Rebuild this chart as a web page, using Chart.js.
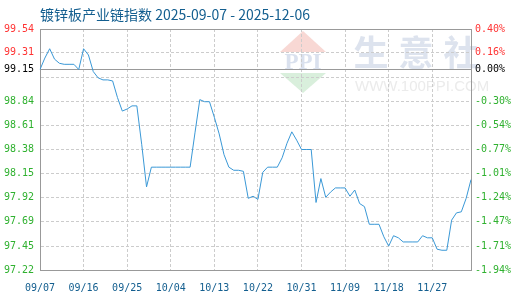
<!DOCTYPE html>
<html>
<head>
<meta charset="utf-8">
<script src="https://cdn.jsdelivr.net/npm/chart.js@4/dist/chart.umd.min.js"></script>
<style>
  html, body { margin: 0; padding: 0; background: #fff; }
  #wrap { width: 520px; height: 300px; }
</style>
</head>
<body>
<div id="wrap"><canvas id="myChart" width="520" height="300"></canvas></div>
<script>
var titleText = "镀锌板产业链指数 2025-09-07 - 2025-12-06";
var startDate = [2025, 9, 7];
var xTickEvery = 9;

// index values, one per day
var index = [
  99.15, 99.26, 99.35, 99.25, 99.21, 99.20, 99.20, 99.20, 99.15, 99.35,
  99.29, 99.13, 99.07, 99.05, 99.05, 99.04, 98.88, 98.75, 98.77, 98.80,
  98.80, 98.43, 98.02, 98.21, 98.21, 98.21, 98.21, 98.21, 98.21, 98.21,
  98.21, 98.21, 98.54, 98.86, 98.84, 98.84, 98.69, 98.53, 98.33, 98.21,
  98.18, 98.18, 98.17, 97.91, 97.93, 97.90, 98.16, 98.21, 98.21, 98.21,
  98.30, 98.44, 98.55, 98.47, 98.38, 98.38, 98.38, 97.87, 98.10, 97.92,
  97.97, 98.01, 98.01, 98.01, 97.93, 97.99, 97.86, 97.83, 97.66, 97.66,
  97.66, 97.54, 97.45, 97.55, 97.53, 97.49, 97.49, 97.49, 97.49, 97.55,
  97.53, 97.53, 97.42, 97.41, 97.41, 97.70, 97.77, 97.78, 97.91, 98.09
];

var base = 99.15;
var baseLabel = "99.15";
var baseRight = "0.00%";
var gridValues = [97.22, 97.45, 97.69, 97.92, 98.15, 98.38, 98.61, 98.84, 99.07, 99.31, 99.54];
var leftLabels = ["97.22", "97.45", "97.69", "97.92", "98.15", "98.38", "98.61", "98.84", "", "99.31", "99.54"];
var rightLabels = ["-1.94%", "-1.71%", "-1.47%", "-1.24%", "-1.01%", "-0.77%", "-0.54%", "-0.30%", "", "0.16%", "0.40%"];

// day labels MM/DD
var days = [];
for (var i = 0; i < index.length; i++) {
  var d = new Date(Date.UTC(startDate[0], startDate[1] - 1, startDate[2] + i));
  var mm = ("0" + (d.getUTCMonth() + 1)).slice(-2);
  var dd = ("0" + d.getUTCDate()).slice(-2);
  days.push(mm + "/" + dd);
}

var red = "#ff3333", green = "#2fb12f", blue = "#135e8f";
var monoFont = { family: "'DejaVu Sans Mono', monospace", size: 10 };

function tickColor(ctx) {
  var v = ctx.tick ? ctx.tick.value : 0;
  if (v === base) return "#000";
  return v > base ? red : green;
}
function setTicks(scale) {
  scale.ticks = gridValues.concat([base]).map(function (v) { return { value: v }; });
}

var watermark = {
  id: "watermark",
  beforeDraw: function (chart) {
    var c = chart.ctx;
    c.save();
    c.fillStyle = "#fff";
    c.fillRect(0, 0, chart.width, chart.height);
    // ppi logo
    c.fillStyle = "#f8d8d4";
    c.beginPath(); c.moveTo(303, 31); c.lineTo(326, 52); c.lineTo(280, 52); c.closePath(); c.fill();
    c.fillStyle = "#d9efdc";
    c.beginPath(); c.moveTo(280, 73); c.lineTo(326, 73); c.lineTo(303, 93); c.closePath(); c.fill();
    c.fillStyle = "#dae1ee";
    c.font = "bold 23px 'Liberation Serif'";
    c.textAlign = "center";
    c.textBaseline = "middle";
    c.fillText("PPI", 303, 63);
    c.font = "bold 35px 'Noto Sans CJK SC'";
    c.fillStyle = "#dde3ee";
    c.fillText("生", 371, 53);
    c.fillText("意", 416, 53);
    c.fillText("社", 461, 53);
    c.font = "15px 'Liberation Sans'";
    c.fillStyle = "#ebebeb";
    c.textAlign = "left";
    c.textBaseline = "alphabetic";
    c.fillText("WWW.100PPI.COM", 355, 91);
    c.restore();
  },
  afterDraw: function (chart) {
    var c = chart.ctx;
    c.save();
    c.font = "14px 'Noto Sans CJK SC'";
    c.fillStyle = blue;
    c.textAlign = "left";
    c.textBaseline = "middle";
    c.fillText(titleText, chart.chartArea.left, 15);
    c.restore();
  }
};

var ctx = document.getElementById("myChart");
var myChart = new Chart(ctx, {
  type: "line",
  data: {
    labels: days,
    datasets: [
      {
        data: index,
        borderColor: "#3a98d6",
        borderWidth: 1,
        pointRadius: 0,
        tension: 0,
        yAxisID: "y"
      }
    ]
  },
  options: {
    responsive: false,
    animation: false,
    layout: { padding: { top: 29, right: 0, bottom: 0, left: 0 } },
    plugins: {
      legend: { display: false },
      tooltip: { enabled: false },
      title: { display: false }
    },
    scales: {
      x: {
        grid: { color: "#cccccc", drawTicks: false },
        border: { color: "#999", dash: [3, 2] },
        ticks: {
          autoSkip: false,
          maxRotation: 0,
          padding: 12,
          color: blue,
          font: monoFont,
          callback: function (v, i) { return i % xTickEvery === 0 ? days[i] : null; }
        },
        afterFit: function (s) { s.height = 30; }
      },
      y: {
        position: "left",
        min: gridValues[0],
        max: gridValues[gridValues.length - 1],
        afterBuildTicks: setTicks,
        grid: {
          drawTicks: false,
          color: function (c) {
            var v = c.tick ? c.tick.value : 0;
            return (v === base || v === gridValues[gridValues.length - 1]) ? "#999" : "#cccccc";
          }
        },
        border: {
          color: "#999",
          dash: function (c) {
            if (!c.tick) return [];
            var v = c.tick.value;
            return (v === base || v === gridValues[gridValues.length - 1]) ? [] : [3, 2];
          }
        },
        ticks: {
          autoSkip: false,
          padding: 6,
          color: tickColor,
          font: monoFont,
          callback: function (v) {
            if (v === base) return baseLabel;
            return leftLabels[gridValues.indexOf(v)];
          }
        },
        afterFit: function (s) { s.width = 40; }
      },
      y2: {
        position: "right",
        min: gridValues[0],
        max: gridValues[gridValues.length - 1],
        afterBuildTicks: setTicks,
        grid: { display: false, drawTicks: false },
        border: { color: "#999" },
        ticks: {
          autoSkip: false,
          padding: 4,
          color: tickColor,
          font: monoFont,
          callback: function (v) {
            if (v === base) return baseRight;
            return rightLabels[gridValues.indexOf(v)];
          }
        },
        afterFit: function (s) { s.width = 49; }
      }
    }
  },
  plugins: [watermark]
});
</script>
</body>
</html>
